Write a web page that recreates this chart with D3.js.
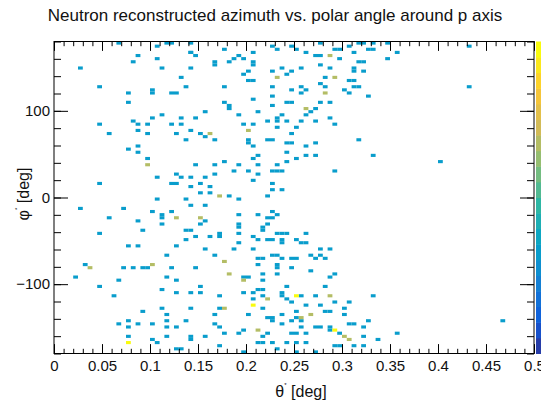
<!DOCTYPE html>
<html>
<head>
<meta charset="utf-8">
<script src="https://cdn.jsdelivr.net/npm/d3@7"></script>
<style>
  body { margin: 0; background: #fff; }
  text { font-family: "Liberation Sans", Arial, sans-serif; }
</style>
</head>
<body>
<div id="chart"></div>
<script>
// --- Data: occupied cells [theta (deg), phi (deg)] grouped by entry count ---
const countOne = [
  [0.069,178],[0.108,174],[0.116,178],[0.121,178],[0.144,178],
  [0.089,163],[0.108,161],[0.083,156],[0.140,168],[0.145,168],[0.149,163],[0.169,157],[0.169,154],
  [0.029,149],[0.114,149],[0.144,149],[0.134,138],[0.045,127],[0.139,127],[0.078,119],[0.104,124],[0.104,121],
  [0.124,119],[0.129,119],[0.078,109],[0.159,99],[0.114,95],[0.104,92],[0.134,92],[0.149,92],[0.083,87],
  [0.089,85],[0.048,85],[0.098,85],[0.124,85],[0.134,85],[0.089,77],[0.059,73],[0.098,73],[0.129,73],
  [0.144,77],[0.154,73],[0.159,70],[0.139,66],[0.169,66],
  [0.178,171],[0.208,167],[0.228,175],[0.233,171],[0.246,174],[0.253,171],[0.264,167],[0.271,163],[0.276,163],
  [0.279,177],[0.294,171],[0.298,172],[0.308,174],[0.314,167],[0.318,178],[0.323,178],[0.328,171],[0.332,177],
  [0.184,156],[0.189,161],[0.194,163],[0.198,160],[0.208,156],[0.208,152],[0.298,160],[0.316,156],[0.320,156],
  [0.198,141],[0.203,146],[0.204,134],[0.209,134],[0.228,146],[0.239,149],[0.244,141],[0.248,146],[0.259,149],
  [0.279,153],[0.289,149],[0.283,138],[0.313,149],[0.313,145],[0.323,146],[0.308,134],[0.314,134],
  [0.178,127],[0.228,127],[0.248,124],[0.259,127],[0.264,124],[0.259,119],[0.279,131],[0.283,127],[0.303,124],
  [0.308,119],[0.314,127],[0.319,127],[0.328,116],
  [0.178,109],[0.184,106],[0.184,102],[0.208,114],[0.228,116],[0.228,106],[0.244,109],[0.248,109],[0.214,99],
  [0.194,95],[0.239,95],[0.269,99],[0.274,102],[0.264,95],[0.279,109],[0.289,109],
  [0.233,92],[0.233,88],[0.224,87],[0.198,85],[0.208,85],[0.244,87],[0.259,87],[0.274,87],[0.289,92],[0.294,85],
  [0.233,80],[0.253,80],[0.203,67],[0.203,63],[0.224,66],[0.229,66],[0.248,73],[0.244,63],[0.248,63],[0.274,63],[0.318,66],
  [0.348,178],[0.330,171],[0.358,167],[0.348,160],[0.433,174],[0.433,127],
  [0.089,58],[0.078,56],[0.089,51],[0.098,44],[0.149,37],[0.169,37],[0.108,22],[0.129,27],[0.134,22],[0.144,22],
  [0.159,22],[0.169,27],[0.045,16],[0.124,16],[0.129,16],[0.144,12],[0.154,16],[0.164,12],[0.154,5],[0.164,5],
  [0.108,-2],[0.139,-2],[0.029,-13],[0.074,-13],[0.144,-10],[0.159,-10],[0.059,-24],[0.104,-17],[0.114,-20],
  [0.114,-24],[0.124,-17],[0.159,-28],[0.089,-28],[0.114,-32],[0.154,-31],[0.045,-42],[0.094,-39],[0.139,-39],
  [0.144,-39],[0.139,-49],[0.149,-46],[0.164,-46],[0.174,-40],[0.174,-44],
  [0.208,58],[0.264,58],[0.244,51],[0.208,44],[0.214,48],[0.253,44],[0.264,48],[0.274,48],[0.332,48],[0.244,41],
  [0.178,41],[0.194,37],[0.214,37],[0.233,37],[0.189,31],[0.203,31],[0.214,27],[0.226,31],[0.231,31],[0.236,31],
  [0.294,31],[0.208,19],[0.228,16],[0.228,9],[0.239,9],[0.184,2],[0.194,-2],[0.223,2],[0.194,-20],[0.214,-20],
  [0.221,-24],[0.226,-24],[0.228,-17],[0.233,-20],[0.224,-31],[0.219,-34],[0.219,-37],[0.194,-31],[0.194,-34],
  [0.194,-42],[0.208,-46],[0.214,-49],[0.221,-49],[0.226,-49],[0.233,-42],[0.239,-42],[0.244,-42],[0.238,-49],
  [0.238,-52],[0.253,-49],[0.264,-42],[0.258,-52],[0.264,-52],[0.194,-52],[0.403,41],
  [0.078,-57],[0.089,-57],[0.129,-57],[0.159,-59],[0.169,-67],[0.119,-67],[0.034,-78],[0.074,-81],[0.083,-81],
  [0.094,-81],[0.098,-81],[0.124,-81],[0.149,-81],[0.020,-93],[0.069,-96],[0.119,-93],[0.129,-96],[0.048,-103],
  [0.114,-107],[0.154,-103],[0.129,-110],[0.144,-110],[0.154,-110],[0.064,-114],[0.114,-127],[0.119,-136],
  [0.144,-127],[0.094,-132],[0.139,-144],[0.169,-136],[0.069,-147],[0.078,-144],[0.078,-148],[0.089,-147],
  [0.104,-147],[0.119,-144],[0.119,-148],[0.129,-151],[0.169,-147],[0.078,-161],[0.119,-161],[0.144,-161],
  [0.144,-164],[0.159,-161],[0.104,-164],[0.109,-168],[0.129,-175],[0.134,-175],[0.172,-172],
  [0.189,-59],[0.208,-59],[0.228,-67],[0.233,-67],[0.239,-71],[0.248,-71],[0.254,-71],[0.214,-71],[0.219,-71],
  [0.269,-67],[0.274,-71],[0.279,-67],[0.283,-71],[0.289,-59],[0.279,-59],[0.214,-78],[0.233,-78],[0.246,-81],
  [0.269,-85],[0.198,-93],[0.204,-93],[0.219,-88],[0.219,-96],[0.233,-82],[0.233,-87],[0.214,-107],[0.219,-107],
  [0.244,-103],[0.283,-103],[0.294,-89],[0.289,-93],[0.174,-114],[0.198,-110],[0.208,-110],[0.208,-117],
  [0.219,-114],[0.239,-110],[0.239,-114],[0.244,-117],[0.248,-122],[0.258,-114],[0.274,-114],[0.294,-122],
  [0.308,-122],[0.333,-114],[0.174,-127],[0.219,-127],[0.264,-125],[0.279,-125],[0.283,-132],[0.289,-132],
  [0.303,-127],[0.203,-136],[0.224,-139],[0.229,-139],[0.239,-136],[0.253,-133],[0.253,-137],[0.303,-136],
  [0.248,-144],[0.228,-144],[0.239,-147],[0.258,-144],[0.258,-148],[0.271,-149],[0.276,-149],[0.308,-147],
  [0.314,-147],[0.328,-144],[0.174,-151],[0.323,-151],[0.289,-151],[0.289,-154],[0.178,-157],[0.194,-157],
  [0.198,-154],[0.219,-161],[0.224,-157],[0.248,-157],[0.254,-157],[0.264,-157],[0.298,-157],[0.323,-161],
  [0.214,-168],[0.219,-168],[0.228,-168],[0.244,-168],[0.253,-168],[0.264,-168],[0.294,-172],[0.298,-172],
  [0.313,-172],[0.323,-172],[0.338,-164],[0.198,-178],[0.233,-176],[0.253,-178],[0.274,-178],
  [0.358,-156],[0.468,-143]
];
const countTwo = [
  [0.164,73],[0.289,163],[0.233,138],[0.294,138],[0.283,119],[0.264,102],[0.203,77],[0.098,37],[0.173,2],
  [0.129,-24],[0.154,-24],[0.039,-81],[0.104,-78],[0.178,-74],[0.184,-88],[0.198,-96],[0.224,-117],
  [0.289,-114],[0.178,-127],[0.258,-139],[0.269,-136],[0.214,-154],[0.303,-161],[0.308,-164]
];
const countThree = [[0.078,-168],[0.208,-125],[0.253,-114],[0.294,-154]];

const xMajor = [0, 0.05, 0.1, 0.15, 0.2, 0.25, 0.3, 0.35, 0.4, 0.45, 0.5];
const yMajor = [-100, 0, 100];
const thetaBin = 0.005, phiBin = 3.6;

// ROOT kBird palette
const birdStops = [0, 0.125, 0.25, 0.375, 0.5, 0.625, 0.75, 0.875, 1];
const birdColors = ['#352a87', '#0f5cdd', '#1481d4', '#06a4ca', '#2eb7a4', '#87bf77', '#d1bb59', '#fec832', '#f9fb0e'];
const bird = d3.scaleLinear().domain(birdStops).range(birdColors);

// ROOT style colour lookup: 20 contour levels spread over 255 palette colours
const nContours = 20, zmax = 3;
const levelColor = lvl => bird(Math.floor((lvl + 0.99) * 255 / nContours) / 254);
const cellColor = n => levelColor(Math.min(nContours - 1, Math.floor(n * nContours / zmax)));

const W = 541, H = 406;
const frame = { left: 54, right: 534, top: 41.5, bottom: 353.5 };

const svg = d3.select('#chart').append('svg')
  .attr('width', W).attr('height', H);

const x = d3.scaleLinear().domain([0, 0.5]).range([frame.left, frame.right]);
const y = d3.scaleLinear().domain([-180, 180]).range([frame.bottom, frame.top]);

// --- Cells ---
const cells = [];
countOne.forEach(d => cells.push({ t: d[0], p: d[1], n: 1 }));
countTwo.forEach(d => cells.push({ t: d[0], p: d[1], n: 2 }));
countThree.forEach(d => cells.push({ t: d[0], p: d[1], n: 3 }));

svg.append('g').selectAll('rect')
  .data(cells)
  .enter().append('rect')
  .attr('x', d => x(Math.floor(d.t / thetaBin) * thetaBin))
  .attr('width', d => x(thetaBin) - x(0))
  .attr('y', d => y((Math.floor((d.p + 180) / phiBin) + 1) * phiBin - 180))
  .attr('height', d => y(-180) - y(-180 + phiBin))
  .attr('fill', d => cellColor(d.n));

// --- Frame ---
svg.append('rect')
  .attr('x', frame.left).attr('y', frame.top)
  .attr('width', frame.right - frame.left).attr('height', frame.bottom - frame.top)
  .attr('fill', 'none').attr('stroke', '#000').attr('stroke-width', 1);

// --- Axes (ticks pointing inward, mirrored on top/right) ---
const xMinor = d3.range(0, 0.5001, 0.01);
const yMinor = d3.range(-180, 180.01, 20);
const fmtX = d => String(+d.toFixed(2));

function styleAxis(g) {
  g.select('.domain').remove();
  g.selectAll('line').attr('stroke', '#000');
  g.selectAll('text').attr('fill', '#111').style('font-size', '15px')
    .style('font-family', '"Liberation Sans", Arial, sans-serif');
}

svg.append('g').attr('transform', `translate(0,${frame.bottom})`)
  .call(d3.axisBottom(x).tickValues(xMinor).tickSize(-4.7).tickFormat('')).call(styleAxis);
svg.append('g').attr('transform', `translate(0,${frame.bottom})`)
  .call(d3.axisBottom(x).tickValues(xMajor).tickSize(-9.4).tickPadding(7).tickFormat(fmtX)).call(styleAxis);
svg.append('g').attr('transform', `translate(0,${frame.top})`)
  .call(d3.axisTop(x).tickValues(xMinor).tickSize(-4.7).tickFormat('')).call(styleAxis);
svg.append('g').attr('transform', `translate(0,${frame.top})`)
  .call(d3.axisTop(x).tickValues(xMajor).tickSize(-9.4).tickFormat('')).call(styleAxis);

svg.append('g').attr('transform', `translate(${frame.left},0)`)
  .call(d3.axisLeft(y).tickValues(yMinor).tickSize(-7).tickFormat('')).call(styleAxis);
svg.append('g').attr('transform', `translate(${frame.left},0)`)
  .call(d3.axisLeft(y).tickValues(yMajor).tickSize(-14).tickPadding(4)).call(styleAxis);
svg.append('g').attr('transform', `translate(${frame.right},0)`)
  .call(d3.axisRight(y).tickValues(yMinor).tickSize(-7).tickFormat('')).call(styleAxis);
svg.append('g').attr('transform', `translate(${frame.right},0)`)
  .call(d3.axisRight(y).tickValues(yMajor).tickSize(-14).tickFormat('')).call(styleAxis);

// --- Palette (colour bar, one band per contour level) ---
const zScale = d3.scaleLinear().domain([0, zmax]).range([frame.bottom, frame.top]);
svg.append('g').selectAll('rect')
  .data(d3.range(nContours))
  .enter().append('rect')
  .attr('x', 536)
  .attr('width', 30)
  .attr('y', i => zScale((i + 1) * zmax / nContours))
  .attr('height', i => zScale(i * zmax / nContours) - zScale((i + 1) * zmax / nContours) + 0.5)
  .attr('fill', i => levelColor(i));

// --- Titles ---
svg.append('text')
  .attr('x', 275).attr('y', 21)
  .attr('text-anchor', 'middle')
  .style('font-size', '17px')
  .attr('fill', '#111')
  .text('Neutron reconstructed azimuth vs. polar angle around p axis');

const xt = svg.append('text')
  .attr('x', 301).attr('y', 397)
  .attr('text-anchor', 'middle')
  .attr('fill', '#111')
  .style('font-size', '16px');
xt.append('tspan').text('θ');
xt.append('tspan').attr('dy', -10).style('font-size', '6px').text('*');
xt.append('tspan').attr('dy', 10).text(' [deg]');

const yt = svg.append('text')
  .attr('transform', 'translate(29,194) rotate(-90)')
  .attr('text-anchor', 'middle')
  .attr('fill', '#111')
  .style('font-size', '16px');
yt.append('tspan').text('φ');
yt.append('tspan').attr('dy', -10).style('font-size', '6px').text('*');
yt.append('tspan').attr('dy', 10).text(' [deg]');
</script>
</body>
</html>
